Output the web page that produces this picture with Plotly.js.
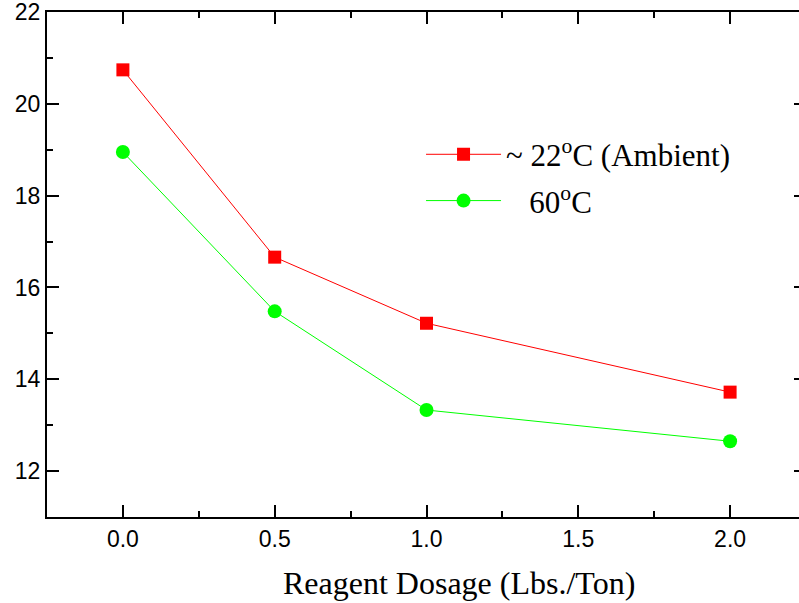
<!DOCTYPE html>
<html>
<head>
<meta charset="utf-8">
<script src="https://cdn.plot.ly/plotly-3.0.1.min.js"></script>
<style>
html,body{margin:0;padding:0;overflow:hidden;background:#fff;}
#chart{width:806px;height:603px;}
</style>
</head>
<body>
<div id="chart"></div>
<script>
const dosage = [0.0, 0.5, 1.0, 2.0];
const ambient = [20.74, 16.66, 15.22, 13.72];
const hot60 = [18.95, 15.48, 13.33, 12.65];
const seriesNames = ["~ 22<sup>o</sup>C (Ambient)", "\u00a0\u00a0\u00a060<sup>o</sup>C"];
const xTicks = [0.0, 0.5, 1.0, 1.5, 2.0];
const xTickText = ["0.0", "0.5", "1.0", "1.5", "2.0"];
const yTicks = [12, 14, 16, 18, 20, 22];
const xTitle = 'Reagent Dosage (Lbs./Ton)';

const traces = [
  {x: dosage, y: ambient, name: seriesNames[0], legendgroup: 'a', type: 'scatter', mode: 'lines+markers',
   line: {color: '#ff0000', width: 1}, marker: {symbol: 'square', size: 13, color: '#ff0000'}},
  {x: dosage, y: hot60, name: seriesNames[1], legendgroup: 'b', type: 'scatter', mode: 'lines+markers',
   line: {color: '#00ff00', width: 1}, marker: {symbol: 'circle', size: 14, color: '#00ff00'}}
];

const axisCommon = {
  showline: true, linecolor: '#000', linewidth: 2,
  ticks: 'inside', tickwidth: 2, ticklen: 12, tickcolor: '#000',
  mirror: 'allticks', showgrid: false, zeroline: false,
  ticklabeloverflow: 'allow',
  tickfont: {family: 'Liberation Sans, Arial, sans-serif', size: 23, color: '#000'}
};

const layout = {
  width: 806, height: 603,
  margin: {l: 47, r: 0, t: 12, b: 86},
  paper_bgcolor: '#fff', plot_bgcolor: '#fff',
  showlegend: true,
  xaxis: Object.assign({}, axisCommon, {
    range: [-0.25, 2.25], tickvals: xTicks, ticktext: xTickText,
    minor: {dtick: 0.25, ticks: 'inside', ticklen: 6, tickwidth: 2, tickcolor: '#000'}
  }),
  yaxis: Object.assign({}, axisCommon, {
    range: [11, 22], tickvals: yTicks,
    minor: {dtick: 1, ticks: 'inside', ticklen: 6, tickwidth: 2, tickcolor: '#000'}
  }),
  legend: {
    x: 0.4928, y: 0.672, xanchor: 'left', yanchor: 'middle',
    bgcolor: 'rgba(0,0,0,0)', borderwidth: 0, itemwidth: 75,
    traceorder: 'grouped', tracegroupgap: 3,
    font: {family: 'Liberation Serif, Times New Roman, serif', size: 31, color: '#000'}
  },
  annotations: [{
    text: xTitle, xref: 'paper', yref: 'paper', x: 0.543, y: -0.1307,
    xanchor: 'center', yanchor: 'middle', showarrow: false,
    font: {family: 'Liberation Serif, Times New Roman, serif', size: 32, color: '#000'}
  }]
};

Plotly.newPlot('chart', traces, layout, {displayModeBar: false, staticPlot: true});
</script>
</body>
</html>
